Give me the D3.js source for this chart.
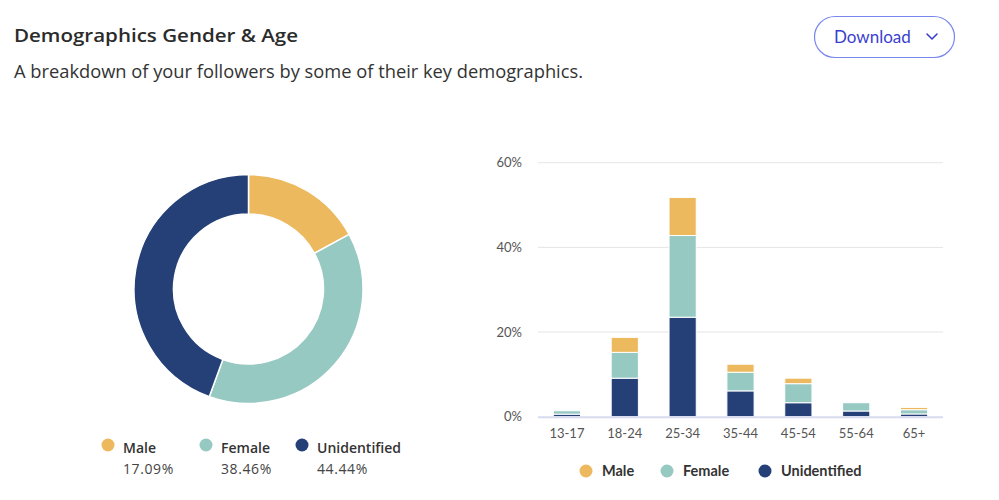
<!DOCTYPE html>
<html><head><meta charset="utf-8">
<script src="https://cdn.jsdelivr.net/npm/d3@7"></script>
<style>body{margin:0;background:#fff}svg{display:block}</style>
</head><body>
<svg id="c" width="999" height="500"></svg>
<script>
const genders = ["Male", "Female", "Unidentified"];
const genderShares = [17.09, 38.46, 44.44];
const genderColors = ["#EDB95E", "#97C9C3", "#253F77"];
const ageGroups = ["13-17", "18-24", "25-34", "35-44", "45-54", "55-64", "65+"];
const maleValues = [0, 3.55, 9.0, 1.9, 1.3, 0, 0.55];
const femaleValues = [0.8, 6.1, 19.3, 4.4, 4.5, 1.95, 1.0];
const unidentifiedValues = [0.6, 9.1, 23.5, 6.1, 3.3, 1.35, 0.65];
const yTicks = [0, 20, 40, 60];

const svg = d3.select("#c");
const font = "Lato, 'Open Sans', sans-serif";

// Header
svg.append("text").attr("x", 14).attr("y", 42).text("Demographics Gender & Age")
  .attr("font-family", "'Open Sans', sans-serif").attr("font-weight", 600).attr("font-size", 18)
  .attr("textLength", 284).attr("lengthAdjust", "spacingAndGlyphs").attr("fill", "#2b2b2b");
svg.append("text").attr("x", 14).attr("y", 78).text("A breakdown of your followers by some of their key demographics.")
  .attr("font-family", "'Open Sans', sans-serif").attr("font-size", 17.5)
  .attr("textLength", 569).attr("lengthAdjust", "spacingAndGlyphs").attr("fill", "#333");

// Download button
const btn = svg.append("g");
btn.append("rect").attr("x", 814.5).attr("y", 16.5).attr("width", 140).attr("height", 41).attr("rx", 20.5)
  .attr("fill", "#fff").attr("stroke", "#7a86f0").attr("stroke-width", 1.2);
btn.append("text").attr("x", 834).attr("y", 43).text("Download")
  .attr("font-family", font).attr("font-size", 17).attr("fill", "#3a3fcf");
btn.append("path").attr("d", "M927,34 L932,39 L937,34").attr("fill", "none")
  .attr("stroke", "#3a3fcf").attr("stroke-width", 1.6).attr("stroke-linecap", "round").attr("stroke-linejoin", "round");

// Donut
const pie = d3.pie().sort(null).value(d => d.v);
const arcs = pie(genders.map((g, i) => ({g, v: genderShares[i], c: genderColors[i]})));
const arc = d3.arc().innerRadius(75).outerRadius(114.5);
svg.append("g").attr("transform", "translate(248.5,289)")
  .selectAll("path").data(arcs).join("path")
  .attr("d", arc).attr("fill", d => d.data.c).attr("stroke", "#fff").attr("stroke-width", 1.5);

// Donut legend
const dl = svg.append("g");
const dlx = [108, 206, 302];
genders.forEach((g, i) => {
  dl.append("circle").attr("cx", dlx[i]).attr("cy", 445).attr("r", 6.5).attr("fill", genderColors[i]);
  dl.append("text").attr("x", dlx[i] + 15).attr("y", 452.5).text(g)
    .attr("font-family", "'Open Sans', sans-serif").attr("font-weight", 600).attr("font-size", 14).attr("fill", "#333");
  dl.append("text").attr("x", dlx[i] + 15).attr("y", 474).text(genderShares[i].toFixed(2) + "%")
    .attr("font-family", "'Open Sans', sans-serif").attr("font-size", 14).attr("letter-spacing", 0.6).attr("fill", "#444");
});

// Bar chart
const x = d3.scaleBand().domain(ageGroups).range([538, 943]).paddingInner(0.53).paddingOuter(0.265);
const y = d3.scaleLinear().domain([0, 60]).range([416.7, 162.7]);
const rows = ageGroups.map((a, i) => ({age: a, Unidentified: unidentifiedValues[i], Female: femaleValues[i], Male: maleValues[i]}));
const stack = d3.stack().keys(["Unidentified", "Female", "Male"]);
const series = stack(rows);
const colorOf = {Male: genderColors[0], Female: genderColors[1], Unidentified: genderColors[2]};

const grid = svg.append("g");
grid.selectAll("line").data(yTicks.filter(t => t > 0)).join("line")
  .attr("x1", 538).attr("x2", 943).attr("y1", d => y(d)).attr("y2", d => y(d))
  .attr("stroke", "#e5e5e5").attr("stroke-width", 1);

const yAxis = svg.append("g").attr("transform", "translate(522,0)")
  .call(d3.axisLeft(y).tickValues(yTicks).tickFormat(d => d + "%").tickSize(0).tickPadding(0));
yAxis.select(".domain").remove();
yAxis.selectAll("text").attr("font-family", "Lato, sans-serif").attr("font-size", 13).attr("fill", "#555");

svg.append("g").selectAll("g").data(series).join("g").attr("fill", d => colorOf[d.key])
  .selectAll("rect").data(d => d.filter(s => s[1] - s[0] > 0)).join("rect")
  .attr("x", d => x(d.data.age)).attr("width", x.bandwidth())
  .attr("y", d => y(d[1])).attr("height", d => Math.max(0, y(d[0]) - y(d[1])))
  .attr("stroke", "#fff").attr("stroke-width", 1);

svg.append("line").attr("x1", 538).attr("x2", 943).attr("y1", y(0) + 0.5).attr("y2", y(0) + 0.5)
  .attr("stroke", "#d8dbef").attr("stroke-width", 2);

const xAxis = svg.append("g").attr("transform", "translate(0,429)")
  .call(d3.axisBottom(x).tickSize(0).tickPadding(0));
xAxis.select(".domain").remove();
xAxis.selectAll("text").attr("font-family", "Lato, sans-serif").attr("font-size", 13).attr("fill", "#555");

// Bar legend
const bl = svg.append("g");
const blx = [586, 667, 765];
genders.forEach((g, i) => {
  bl.append("circle").attr("cx", blx[i]).attr("cy", 471).attr("r", 6.5).attr("fill", genderColors[i]);
  bl.append("text").attr("x", blx[i] + 16).attr("y", 476).text(g)
    .attr("font-family", font).attr("font-weight", 700).attr("font-size", 14.5).attr("fill", "#333");
});
</script>
</body></html>
